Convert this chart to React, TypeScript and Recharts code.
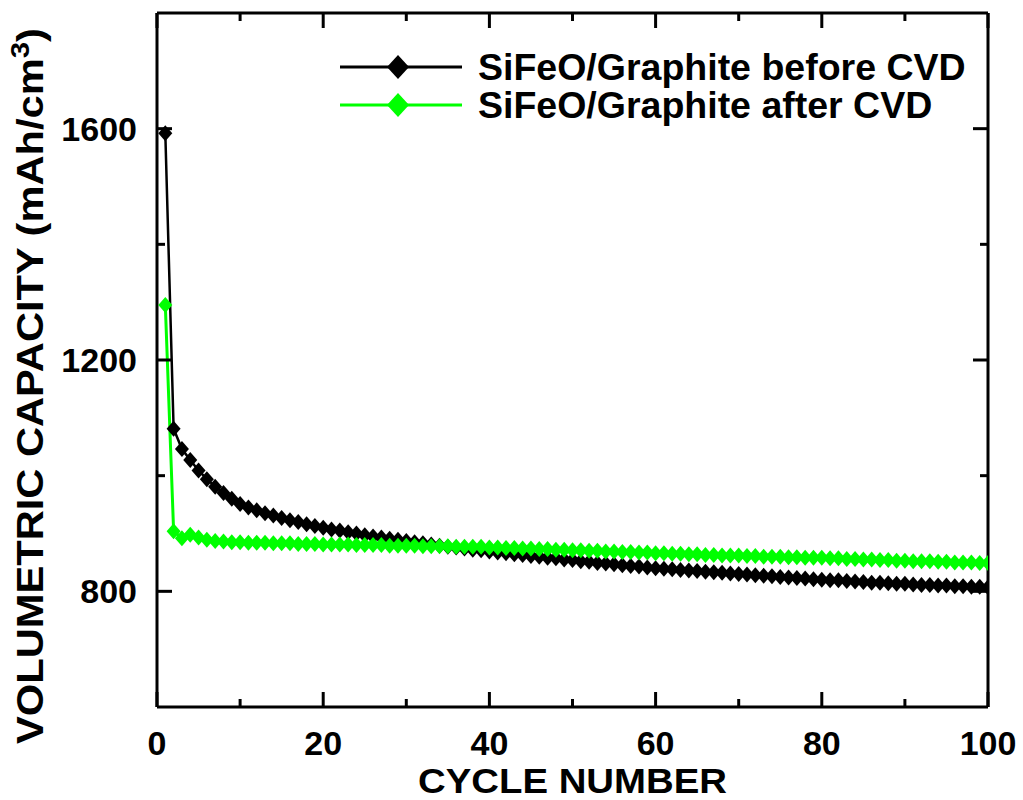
import React from 'react';
import { LineChart, Line, XAxis, YAxis, Legend, Label } from 'recharts';

const cycles: number[] = Array.from({ length: 100 }, (_, i) => i + 1);

const beforeCVD: number[] = [
  1592, 1081, 1046, 1027, 1009, 994, 981, 970, 960, 951,
  945, 940, 935, 931, 927, 923, 920, 916, 913, 910,
  907, 905, 902, 900, 897, 895, 893, 891, 889, 887,
  885, 883, 881, 879, 877, 876, 874, 872, 871, 869,
  867, 866, 864, 863, 861, 860, 858, 857, 855, 854,
  852, 851, 849, 848, 847, 845, 844, 843, 841, 840,
  839, 838, 837, 836, 835, 834, 833, 832, 831, 830,
  829, 828, 827, 826, 825, 824, 823, 822, 821, 820,
  819, 819, 818, 817, 816, 815, 815, 814, 813, 813,
  812, 811, 811, 810, 810, 809, 809, 808, 808, 807,
];

const afterCVD: number[] = [
  1295, 904, 892, 898, 893, 889, 887, 886, 885, 885,
  884, 884, 884, 883, 883, 883, 882, 882, 882, 881,
  881, 881, 881, 880, 880, 880, 880, 879, 879, 879,
  879, 878, 878, 878, 878, 877, 877, 877, 877, 876,
  876, 875, 875, 874, 874, 873, 873, 872, 872, 871,
  871, 870, 870, 869, 869, 868, 868, 867, 867, 866,
  866, 865, 865, 864, 864, 863, 863, 862, 862, 862,
  861, 861, 860, 860, 860, 859, 859, 858, 858, 858,
  857, 857, 856, 856, 855, 855, 854, 854, 853, 853,
  852, 852, 852, 851, 851, 850, 850, 850, 849, 849,
];

const seriesNames = ['SiFeO/Graphite before CVD', 'SiFeO/Graphite after CVD'];
const seriesColors = ['#000000', '#00ff00'];

const xMajorTicks = [0, 20, 40, 60, 80, 100];
const xAllTicks = [0, 10, 20, 30, 40, 50, 60, 70, 80, 90, 100];
const yMajorTicks = [800, 1200, 1600];
const yAllTicks = [800, 1000, 1200, 1400, 1600];

const xTitle = 'CYCLE NUMBER';
const yTitle = 'VOLUMETRIC CAPACITY (mAh/cm';

const data = cycles.map((c, i) => ({ cycle: c, before: beforeCVD[i], after: afterCVD[i] }));

const FONT = '"Liberation Sans", Arial, Helvetica, sans-serif';
const MAJOR = 15;
const MINOR = 8;

const BottomTick = (props: any) => {
  const { x, y, payload } = props;
  const v = payload.value;
  const major = xMajorTicks.includes(v);
  return (
    <g>
      <line x1={x} y1={y} x2={x} y2={y - (major ? MAJOR : MINOR)} stroke="#000" strokeWidth={3} />
      {major && (
        <text x={x} y={y + 48} textAnchor="middle" fontFamily={FONT} fontWeight="bold" fontSize={34} fill="#000">
          {v}
        </text>
      )}
    </g>
  );
};

const TopTick = (props: any) => {
  const { x, y, payload } = props;
  const major = xMajorTicks.includes(payload.value);
  return <line x1={x} y1={y} x2={x} y2={y + (major ? MAJOR : MINOR)} stroke="#000" strokeWidth={3} />;
};

const LeftTick = (props: any) => {
  const { x, y, payload } = props;
  const v = payload.value;
  const major = yMajorTicks.includes(v);
  return (
    <g>
      <line x1={x} y1={y} x2={x + (major ? MAJOR : MINOR)} y2={y} stroke="#000" strokeWidth={3} />
      {major && (
        <text x={x - 20} y={y + 12} textAnchor="end" fontFamily={FONT} fontWeight="bold" fontSize={34} fill="#000">
          {v}
        </text>
      )}
    </g>
  );
};

const RightTick = (props: any) => {
  const { x, y, payload } = props;
  const major = yMajorTicks.includes(payload.value);
  return <line x1={x} y1={y} x2={x - (major ? MAJOR : MINOR)} y2={y} stroke="#000" strokeWidth={3} />;
};

const makeDiamond = (color: string) => (props: any) => {
  const { cx, cy, index } = props;
  if (cx == null || cy == null) return <g key={index} />;
  return (
    <path
      key={index}
      d={`M${cx},${cy - 8}L${cx + 7},${cy}L${cx},${cy + 8}L${cx - 7},${cy}Z`}
      fill={color}
    />
  );
};

const XTitle = (props: any) => {
  const vb = props.viewBox || {};
  return (
    <text
      x={vb.x + vb.width / 2}
      y={vb.y + 86}
      textAnchor="middle"
      fontFamily={FONT}
      fontWeight="bold"
      fontSize={35}
      textLength={309}
      lengthAdjust="spacingAndGlyphs"
      fill="#000"
    >
      {xTitle}
    </text>
  );
};

const YTitle = (props: any) => {
  const vb = props.viewBox || {};
  const cx = vb.x + 43;
  const cy = 386;
  return (
    <text
      x={cx}
      y={cy}
      transform={`rotate(-90, ${cx}, ${cy})`}
      textAnchor="middle"
      fontFamily={FONT}
      fontWeight="bold"
      fontSize={37}
      textLength={716}
      lengthAdjust="spacingAndGlyphs"
      fill="#000"
    >
      {yTitle}
      <tspan dy={-14} fontSize={26}>3</tspan>
      <tspan dy={14}>)</tspan>
    </text>
  );
};

const renderLegend = () => {
  return (
    <div style={{ display: 'flex', flexDirection: 'column' }}>
      {seriesNames.map((name, i) => (
        <div key={i} style={{ display: 'flex', alignItems: 'center', height: 38 }}>
          <svg width={122} height={38} style={{ display: 'block' }}>
            <line x1={0} y1={19} x2={122} y2={19} stroke={seriesColors[i]} strokeWidth={3} />
            <path d="M58,7L69,19L58,31L47,19Z" fill={seriesColors[i]} />
          </svg>
          <span
            style={{
              marginLeft: 16,
              fontFamily: FONT,
              fontWeight: 'bold',
              fontSize: 37.5,
              lineHeight: '38px',
              color: '#000',
              whiteSpace: 'nowrap',
            }}
          >
            {name}
          </span>
        </div>
      ))}
    </div>
  );
};

export default function App() {
  return (
    <div style={{ position: 'absolute', left: 0, top: 0, width: 1023, height: 800, background: '#fff' }}>
      <LineChart width={1023} height={800} data={data} margin={{ top: 12, right: 34, bottom: 0, left: 0 }}>
        <XAxis
          xAxisId="bottom"
          type="number"
          dataKey="cycle"
          domain={[0, 100]}
          ticks={xAllTicks}
          interval={0}
          height={93}
          tickSize={0}
          tickMargin={0}
          tickLine={false}
          tick={<BottomTick />}
          axisLine={{ stroke: '#000', strokeWidth: 3 }}
          allowDataOverflow
        >
          <Label content={<XTitle />} />
        </XAxis>
        <XAxis
          xAxisId="top"
          orientation="top"
          type="number"
          dataKey="cycle"
          domain={[0, 100]}
          ticks={xAllTicks}
          interval={0}
          height={1}
          tickSize={0}
          tickMargin={0}
          tickLine={false}
          tick={<TopTick />}
          axisLine={{ stroke: '#000', strokeWidth: 3 }}
          allowDataOverflow
        />
        <YAxis
          yAxisId="left"
          type="number"
          domain={[600, 1800]}
          ticks={yAllTicks}
          interval={0}
          width={157}
          tickSize={0}
          tickMargin={0}
          tickLine={false}
          tick={<LeftTick />}
          axisLine={{ stroke: '#000', strokeWidth: 3 }}
          allowDataOverflow
        >
          <Label content={<YTitle />} />
        </YAxis>
        <YAxis
          yAxisId="right"
          orientation="right"
          type="number"
          domain={[600, 1800]}
          ticks={yAllTicks}
          interval={0}
          width={1}
          tickSize={0}
          tickMargin={0}
          tickLine={false}
          tick={<RightTick />}
          axisLine={{ stroke: '#000', strokeWidth: 3 }}
          allowDataOverflow
        />
        <Legend
          layout="vertical"
          align="center"
          verticalAlign="middle"
          wrapperStyle={{ top: 48, left: 340, width: 680, right: 'auto', bottom: 'auto' }}
          content={renderLegend}
        />
        <Line
          xAxisId="bottom"
          yAxisId="left"
          type="linear"
          dataKey="before"
          name={seriesNames[0]}
          stroke={seriesColors[0]}
          strokeWidth={2.5}
          dot={makeDiamond(seriesColors[0])}
          activeDot={false}
          isAnimationActive={false}
        />
        <Line
          xAxisId="bottom"
          yAxisId="left"
          type="linear"
          dataKey="after"
          name={seriesNames[1]}
          stroke={seriesColors[1]}
          strokeWidth={3}
          dot={makeDiamond(seriesColors[1])}
          activeDot={false}
          isAnimationActive={false}
        />
      </LineChart>
    </div>
  );
}
